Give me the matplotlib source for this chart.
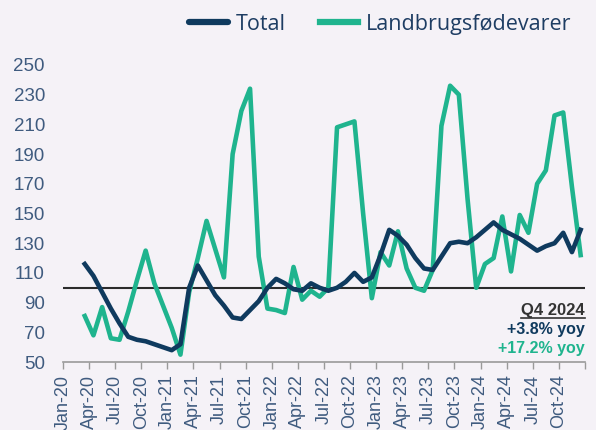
import matplotlib
matplotlib.use("Agg")
import matplotlib.pyplot as plt
import numpy as np
from matplotlib.lines import Line2D

# ---- data (monthly index, Mar-2020 .. Dec-2024) ----
month_start_index = 2   # Mar-20 (Jan-20 = 0)
total = [116, 108, 97, 86, 76, 67, 65, 64, 62, 60, 58, 62, 100, 115, 105, 95,
         88, 80, 79, 85, 91, 100, 106, 103, 99, 98, 103, 100, 98, 100, 104, 110,
         104, 107, 122, 139, 135, 129, 120, 113, 112, 121, 130, 131, 130, 134,
         139, 144, 139, 136, 133, 129, 125, 128, 130, 137, 124, 139]
landbrug = [81, 68, 87, 66, 65, 84, 105, 125, 103, 88, 73, 55, 97, 120, 145, 126,
            107, 190, 219, 234, 121, 86, 85, 83, 114, 92, 98, 94, 100, 208, 210, 212,
            150, 93, 124, 115, 138, 113, 100, 98, 112, 209, 236, 230, 160, 100,
            116, 120, 148, 111, 149, 137, 170, 179, 216, 218, 168, 122]
tick_labels = ["Jan-20", "Apr-20", "Jul-20", "Oct-20", "Jan-21", "Apr-21", "Jul-21",
               "Oct-21", "Jan-22", "Apr-22", "Jul-22", "Oct-22", "Jan-23", "Apr-23",
               "Jul-23", "Oct-23", "Jan-24", "Apr-24", "Jul-24", "Oct-24"]
yticks = [50, 70, 90, 110, 130, 150, 170, 190, 210, 230, 250]
baseline = 100
note_title = "Q4 2024"
note_total = "+3.8% yoy"
note_land = "+17.2% yoy"

BG = "#f5f2f7"
NAVY = "#0f3a5e"
GREEN = "#1fb48e"
TICKC = "#3f5b7f"

fig = plt.figure(figsize=(5.96, 4.30), dpi=100, facecolor=BG)
ax = fig.add_axes([0.1057, 0.158, 0.8758, 0.691], facecolor=BG)

x = np.arange(month_start_index, month_start_index + len(total)) + 0.5
ax.axhline(baseline, color="#2b2b2b", lw=1.5, zorder=1)
ax.plot(x, total, color=NAVY, lw=3.3, solid_joinstyle="round", zorder=3, label="Total")
ax.plot(x, landbrug, color=GREEN, lw=3.3, solid_joinstyle="round", zorder=2,
        label="Landbrugsfødevarer")

ax.set_xlim(0, 60)
ax.set_ylim(50, 250)
ax.set_xticks(np.arange(0, 61, 3))
ax.set_xticklabels(tick_labels + [""], rotation=90, fontsize=13,
                   family="Liberation Sans", color=TICKC)
ax.set_yticks(yticks)
ax.set_yticklabels([str(v) for v in yticks], fontsize=13.5,
                   family="Liberation Sans", color=TICKC)
ax.tick_params(axis="y", length=0, pad=13)
ax.tick_params(axis="x", length=5, width=1, color="#9a9a9a", pad=4, direction="out")
for s in ["top", "right", "left"]:
    ax.spines[s].set_visible(False)
ax.spines["bottom"].set_color("#9a9a9a")
ax.spines["bottom"].set_linewidth(1.2)

handles = [Line2D([0], [0], color=NAVY, lw=4.5, solid_capstyle="round"),
           Line2D([0], [0], color=GREEN, lw=4.5)]
leg = fig.legend(handles, ["Total", "Landbrugsfødevarer"], loc="center",
                 bbox_to_anchor=(0.638, 0.944), ncol=2, frameon=False,
                 prop={"family": "Open Sans", "size": 15.5},
                 handlelength=1.8, handletextpad=0.35, columnspacing=1.6)
for t in leg.get_texts():
    t.set_color("#1e3d63")

# annotation block (right-aligned, axes coordinates)
t1 = ax.text(0.9995, 0.160, note_title, transform=ax.transAxes, ha="right", va="baseline",
             fontsize=12, fontweight="bold", family="Liberation Sans", color="#333333")
ax.text(0.9995, 0.094, note_total, transform=ax.transAxes, ha="right", va="baseline",
        fontsize=11.5, fontweight="bold", family="Liberation Sans", color=NAVY)
ax.text(0.9995, 0.030, note_land, transform=ax.transAxes, ha="right", va="baseline",
        fontsize=11.5, fontweight="bold", family="Liberation Sans", color=GREEN)

fig.canvas.draw()
bb = t1.get_window_extent().transformed(fig.transFigure.inverted())
fig.add_artist(Line2D([bb.x0, bb.x1], [bb.y0 - 0.002, bb.y0 - 0.002],
                      transform=fig.transFigure, color="#333333", lw=1.2))

fig.savefig("out.png", dpi=100, facecolor=BG)
